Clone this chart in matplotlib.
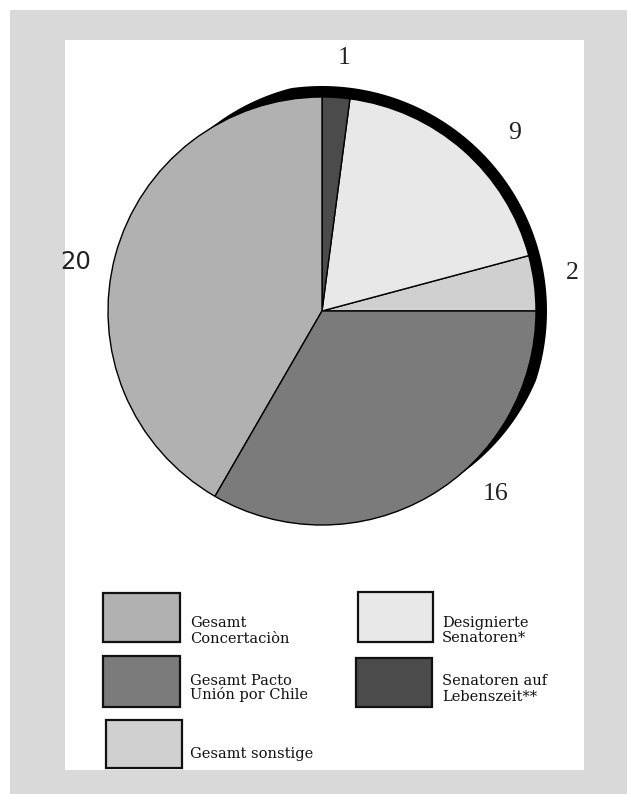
import matplotlib
matplotlib.use("Agg")
import matplotlib.pyplot as plt
import numpy as np
from matplotlib.patches import Rectangle, Polygon

# ── data (counter-clockwise from 3 o'clock) ──────────────────────────────────
seats = [2, 9, 1, 20, 16]
names = ["Gesamt sonstige", "Designierte\nSenatoren*", "Senatoren auf\nLebenszeit**",
         "Gesamt\nConcertaciòn", "Gesamt Pacto\nUnión por Chile"]
colours = ["#d0d0d0", "#e8e8e8", "#4b4b4b", "#b1b1b1", "#7b7b7b"]
value_labels = ["2", "9", "1", "20", "16"]

W, H = 627, 794

fig = plt.figure(figsize=(W / 100, H / 100), dpi=100)
ax = fig.add_axes([0, 0, 1, 1])

# page background: grey frame with white panel (pixel coords, y up)
ax.add_patch(Rectangle((10, 0), W - 10, H - 10, facecolor="#d9d9d9", edgecolor="none", zorder=0))
panel = Rectangle((65, 24), 584 - 65, 754 - 24, facecolor="white", edgecolor="none", zorder=0)
ax.add_patch(panel)

# pie
cx, cy, r = 322, 483, 214
wedges, _ = ax.pie(seats, colors=colours, startangle=0, counterclock=True,
                   center=(cx, cy), radius=r, frame=True,
                   wedgeprops=dict(edgecolor="black", linewidth=1.0))
for w in wedges:
    w.set_zorder(2)

# black rim along the upper right (pseudo 3-D edge), tapering at both ends
ang = np.radians(np.linspace(-50, 122, 200))
deg = np.degrees(ang)
thick = 11 * np.clip(np.minimum((deg + 50) / 32, (122 - deg) / 24), 0, 1)
outer = np.column_stack([cx + (r + thick) * np.cos(ang), cy + (r + thick) * np.sin(ang)])
inner = np.column_stack([cx + (r - 3) * np.cos(ang[::-1]), cy + (r - 3) * np.sin(ang[::-1])])
ax.add_patch(Polygon(np.vstack([outer, inner]), closed=True, facecolor="black",
                     edgecolor="none", zorder=1))

# value labels around the pie
label_pos = {"2": (572, 521), "9": (515, 661), "1": (344, 736),
             "20": (76, 532), "16": (496, 300)}
serif = ["Liberation Serif", "DejaVu Serif"]
for lab in value_labels:
    x, y = label_pos[lab]
    if lab == "20":
        t = ax.text(x, y, lab, ha="center", va="center", fontsize=17.5,
                    family=["DejaVu Sans"], color="#222222")
        t.set_clip_path(panel)
    else:
        ax.text(x, y, lab, ha="center", va="center", fontsize=18.5,
                family=serif, color="#222222")

# hand-built legend: boxes + two-line captions
legend_slots = {
    "Gesamt\nConcertaciòn":            ((103, 794 - 642, 77, 49), (190, [627, 643])),
    "Gesamt Pacto\nUnión por Chile":   ((103, 794 - 707, 77, 51), (190, [685, 699])),
    "Gesamt sonstige":                 ((106, 794 - 768, 76, 48), (190, [758])),
    "Designierte\nSenatoren*":         ((358, 794 - 642, 75, 50), (442, [627, 642])),
    "Senatoren auf\nLebenszeit**":     ((356, 794 - 707, 76, 49), (442, [685, 701])),
}
for name, col in zip(names, colours):
    (bx, by, bw, bh), (tx, bases) = legend_slots[name]
    ax.add_patch(Rectangle((bx, by), bw, bh, facecolor=col, edgecolor="#111111",
                           linewidth=1.6, zorder=3))
    for line, base in zip(name.split("\n"), bases):
        ax.text(tx, 794 - base, line, ha="left", va="baseline", fontsize=10.5,
                family=["DejaVu Serif"], color="#111111")

ax.set_xlim(0, W)
ax.set_ylim(0, H)
ax.set_aspect("auto")
ax.axis("off")

fig.savefig("out.png", dpi=100, facecolor="white")
plt.close(fig)
